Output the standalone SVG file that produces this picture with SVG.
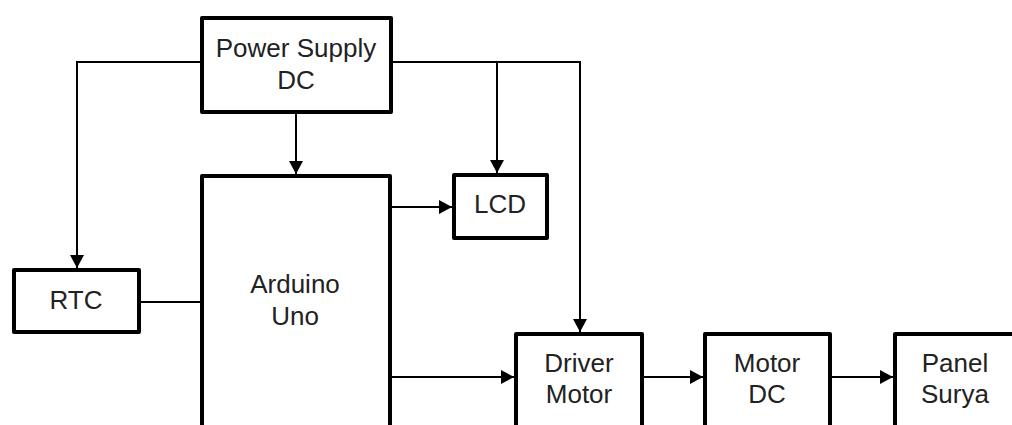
<svg xmlns="http://www.w3.org/2000/svg" width="1012" height="425" viewBox="0 0 1012 425">
<defs>
<marker id="arr" markerUnits="userSpaceOnUse" markerWidth="14" markerHeight="16" refX="13" refY="7" orient="auto">
<path d="M0,0 L13,7 L0,14 z" fill="#000"/>
</marker>
<style>
.box{fill:#fff;stroke:#000;stroke-width:4;stroke-linejoin:round}
.lbl{font-family:"Liberation Sans",Arial,sans-serif;font-size:26px;fill:#222;text-anchor:middle}
.c{fill:none;stroke:#000;stroke-width:2}
.a{marker-end:url(#arr)}
</style>
</defs>
<rect width="1012" height="425" fill="#fff"/>
<g id="connectors">
<path class="c a" d="M202,62 H77 V268"/>
<path class="c a" d="M296,112 V174"/>
<path class="c a" d="M391,62 H580 V332"/>
<path class="c a" d="M497,62 V173"/>
<path class="c a" d="M390,207 H452"/>
<path class="c" d="M139,302 H202"/>
<path class="c a" d="M390,377 H514"/>
<path class="c a" d="M642,377 H703"/>
<path class="c a" d="M830,377 H893"/>
</g>
<g id="power-supply">
<rect class="box" x="202" y="18" width="189" height="94"/>
<text class="lbl" x="296" y="57">Power Supply</text>
<text class="lbl" x="296" y="89">DC</text>
</g>
<g id="arduino">
<rect class="box" x="202" y="176" width="188" height="300"/>
<text class="lbl" x="295" y="293">Arduino</text>
<text class="lbl" x="295" y="325">Uno</text>
</g>
<g id="lcd">
<rect class="box" x="454" y="175" width="93" height="63"/>
<text class="lbl" x="500" y="213">LCD</text>
</g>
<g id="rtc">
<rect class="box" x="14" y="270" width="125" height="62"/>
<text class="lbl" x="76" y="309">RTC</text>
</g>
<g id="driver-motor">
<rect class="box" x="516" y="334" width="126" height="150"/>
<text class="lbl" x="579" y="372">Driver</text>
<text class="lbl" x="579" y="403">Motor</text>
</g>
<g id="motor-dc">
<rect class="box" x="705" y="334" width="125" height="150"/>
<text class="lbl" x="767" y="372">Motor</text>
<text class="lbl" x="767" y="403">DC</text>
</g>
<g id="panel-surya">
<rect class="box" x="895" y="334" width="126" height="150"/>
<text class="lbl" x="955" y="372">Panel</text>
<text class="lbl" x="955" y="403">Surya</text>
</g>
</svg>
